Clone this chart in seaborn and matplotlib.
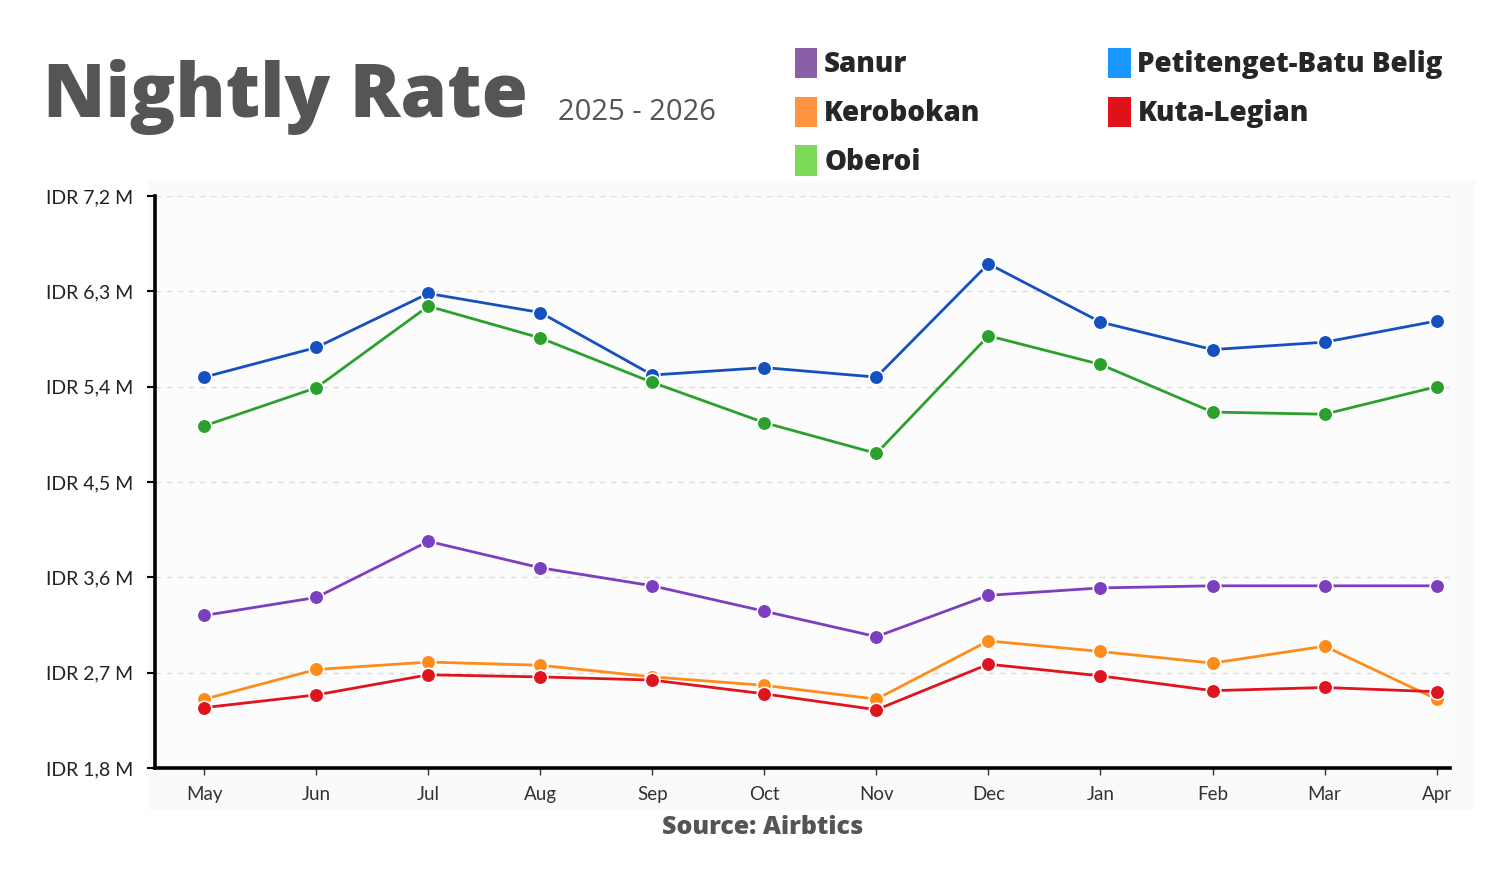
import matplotlib
matplotlib.use("Agg")
import matplotlib.pyplot as plt
import seaborn as sns
import pandas as pd
from matplotlib.patches import Patch, Rectangle

months = ["May", "Jun", "Jul", "Aug", "Sep", "Oct", "Nov", "Dec", "Jan", "Feb", "Mar", "Apr"]
petitenget = [5.49, 5.77, 6.28, 6.10, 5.51, 5.58, 5.49, 6.56, 6.01, 5.75, 5.82, 6.02]
oberoi = [5.03, 5.39, 6.16, 5.86, 5.44, 5.06, 4.77, 5.88, 5.61, 5.16, 5.14, 5.40]
sanur = [3.24, 3.41, 3.94, 3.69, 3.52, 3.28, 3.04, 3.43, 3.50, 3.52, 3.52, 3.52]
kerobokan = [2.45, 2.73, 2.80, 2.77, 2.66, 2.58, 2.45, 3.00, 2.90, 2.79, 2.95, 2.45]
kuta = [2.37, 2.49, 2.68, 2.66, 2.63, 2.50, 2.35, 2.78, 2.67, 2.53, 2.56, 2.52]

series_names = ["Sanur", "Kerobokan", "Oberoi", "Petitenget-Batu Belig", "Kuta-Legian"]
series_values = [sanur, kerobokan, oberoi, petitenget, kuta]
line_colors = ["#7b3fbf", "#ff8c1a", "#2ca02c", "#1550c0", "#e0141e"]
legend_colors = ["#8a5fa8", "#ff9340", "#7ed957", "#1996ff", "#de1218"]
yticks = [1.8, 2.7, 3.6, 4.5, 5.4, 6.3, 7.2]
ytick_labels = ["IDR 1,8 M", "IDR 2,7 M", "IDR 3,6 M", "IDR 4,5 M", "IDR 5,4 M", "IDR 6,3 M", "IDR 7,2 M"]

sns.set_style("white")
plt.rcParams["font.family"] = ["Lato", "DejaVu Sans"]

rows = []
for name, vals in zip(series_names, series_values):
    for i, v in enumerate(vals):
        rows.append({"series": name, "idx": i, "value": v})
df = pd.DataFrame(rows)

fig = plt.figure(figsize=(15, 8.74), dpi=100)
fig.patch.set_facecolor("white")
bg = Rectangle((148 / 1500, 1 - 810 / 874), (1475 - 148) / 1500, (810 - 180) / 874,
               transform=fig.transFigure, facecolor="#fafafa", edgecolor="none", zorder=-5)
fig.patches.append(bg)

ax = fig.add_axes([155 / 1500, 1 - 768 / 874, (1450 - 155) / 1500, (768 - 196) / 874])
ax.set_zorder(2)
ax.set_facecolor("#fcfcfc")

order = [3, 2, 0, 1, 4]
for k in order:
    sub = df[df["series"] == series_names[k]]
    sns.lineplot(data=sub, x="idx", y="value", ax=ax, color=line_colors[k], linewidth=2.0,
                 marker="o", markersize=10.5, markeredgecolor="white", markeredgewidth=1.2,
                 legend=False, zorder=3)

ax.set_xlim(-0.44, 11.12)
ax.set_ylim(1.8, 7.2)
ax.set_xticks(range(len(months)))
ax.set_xticklabels(months, fontsize=13.5, color="#333333")
ax.set_yticks(yticks)
ax.set_yticklabels(ytick_labels, fontsize=14, color="#222222")
ax.set_xlabel("")
ax.set_ylabel("")
ax.tick_params(axis="y", length=6, width=1.5, color="black", pad=10, left=True)
ax.tick_params(axis="x", length=5, width=1, color="#333333", pad=8, bottom=True)
for y in yticks[1:]:
    ax.axhline(y, color="#dddddd", linestyle=(0, (4, 4)), linewidth=1.0, zorder=1)
for s in ["top", "right"]:
    ax.spines[s].set_visible(False)
ax.spines["left"].set_linewidth(2.6)
ax.spines["bottom"].set_linewidth(2.6)
ax.spines["left"].set_color("black")
ax.spines["bottom"].set_color("black")

heavy = ["Open Sans", "Roboto", "DejaVu Sans"]
fig.text(43 / 1500, 1 - 97 / 874, "Nightly Rate", fontsize=54, fontweight=800,
         color="#555555", va="center", ha="left", family=heavy)
fig.text(558 / 1500, 1 - 112 / 874, "2025 - 2026", fontsize=21, color="#555555",
         va="center", ha="left", family=["Open Sans", "DejaVu Sans"])

handles = [Patch(facecolor=c, edgecolor="none") for c in legend_colors]
leg = fig.legend(handles, series_names, ncol=2, loc="upper left",
                 bbox_to_anchor=(770 / 1500, 1 - 23 / 874), frameon=False,
                 prop={"size": 20, "weight": 800, "family": heavy},
                 handlelength=0.8, handleheight=1.3,
                 handletextpad=0.25, columnspacing=4.6, labelspacing=0.62)

fig.text(763 / 1500, 1 - 827 / 874, "Source: Airbtics", fontsize=18, fontweight=800,
         color="#555555", ha="center", va="center", family=heavy)

fig.savefig("out.png", dpi=100)
